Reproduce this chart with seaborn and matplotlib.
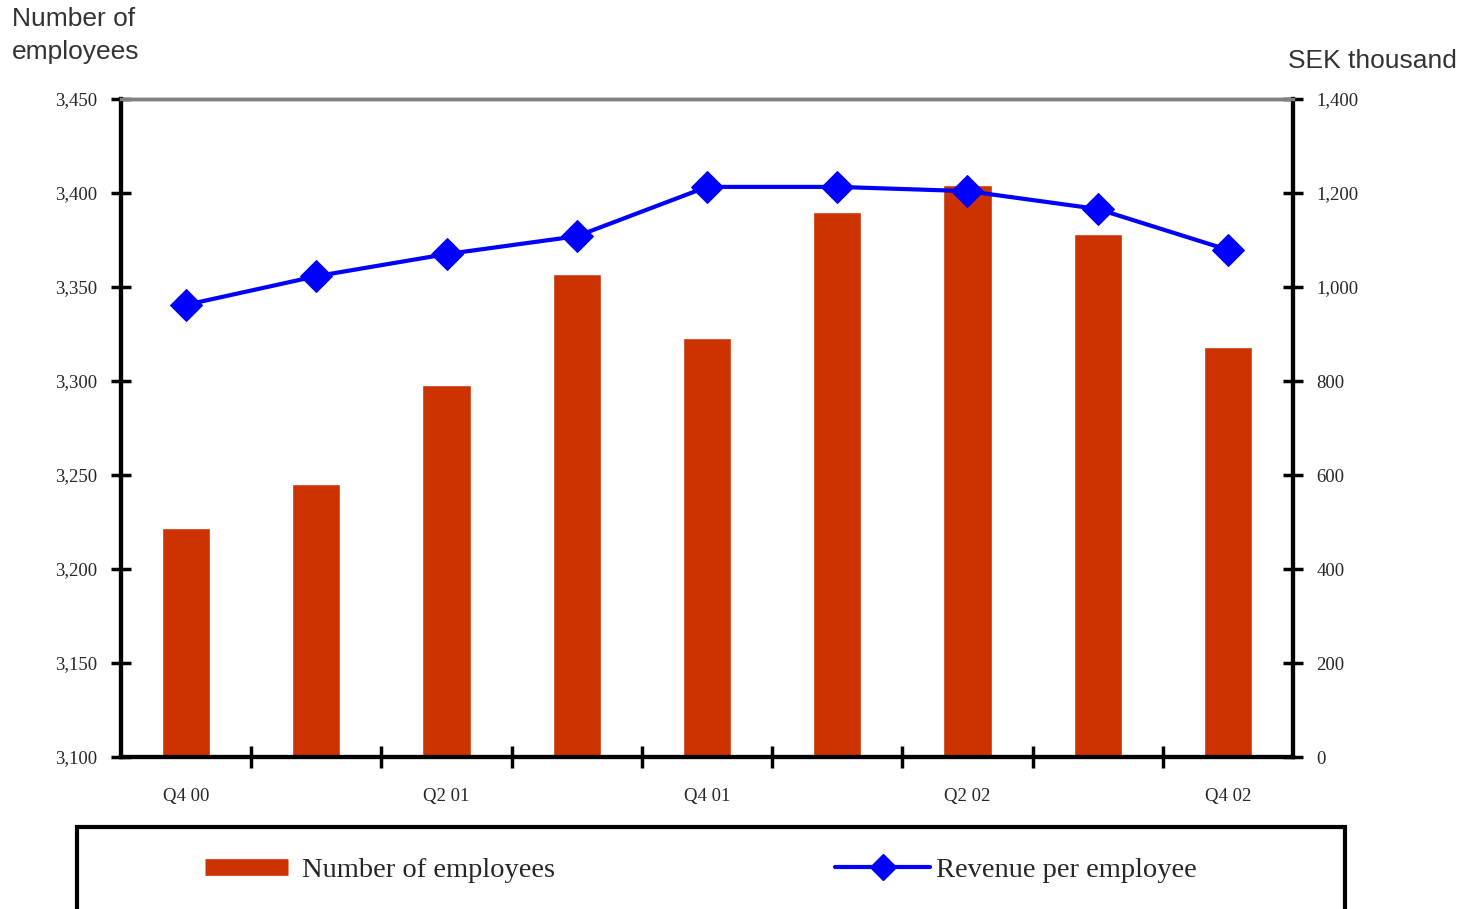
import numpy as np
import pandas as pd
import matplotlib
matplotlib.use("Agg")
import matplotlib.pyplot as plt
from matplotlib.lines import Line2D
from matplotlib.patches import Rectangle
from matplotlib.ticker import FuncFormatter, MultipleLocator, FixedLocator
import seaborn as sns

# Quarterly headcount and revenue per employee
quarters = ["Q4 00", "Q1 01", "Q2 01", "Q3 01", "Q4 01", "Q1 02", "Q2 02", "Q3 02", "Q4 02"]
employees = [3222, 3245, 3298, 3357, 3323, 3390, 3404, 3378, 3318]
revenue_per_employee = [962, 1023, 1070, 1108, 1213, 1213, 1204, 1166, 1079]

shown_labels = quarters[::2]

bar_color = "#CC3300"
line_color = "#0000FF"

sns.set_theme(style="white")
plt.rcParams["font.family"] = ["Liberation Serif", "DejaVu Serif"]

df = pd.DataFrame({"quarter": quarters, "employees": employees,
                   "revenue": revenue_per_employee, "pos": np.arange(len(quarters))})

fig = plt.figure(figsize=(14.76, 9.09), dpi=100)
ax = fig.add_axes([121 / 1476, 1 - 757 / 909, (1293 - 121) / 1476, (757 - 99) / 909])

sns.barplot(data=df, x="quarter", y="employees", color=bar_color, saturation=1,
            width=0.37, ax=ax, zorder=2)
ax.set_ylim(3100, 3450)
ax.set_xlim(-0.5, len(quarters) - 0.5)

ax2 = ax.twinx()
sns.lineplot(data=df, x="pos", y="revenue", color=line_color, linewidth=3,
             marker="D", markersize=16, markeredgecolor=line_color, ax=ax2, zorder=3)
ax2.set_ylim(0, 1400)
ax2.set_xlim(-0.5, len(quarters) - 0.5)

# Axis labels and ticks
tick_size = 13.5
ax.yaxis.set_major_locator(MultipleLocator(50))
ax.yaxis.set_major_formatter(FuncFormatter(lambda v, p: f"{int(v):,}"))
ax2.yaxis.set_major_locator(MultipleLocator(200))
ax2.yaxis.set_major_formatter(FuncFormatter(lambda v, p: f"{int(v):,}"))

ax.xaxis.set_major_locator(FixedLocator(np.arange(0, len(quarters), 2)))
ax.set_xticklabels(shown_labels)
ax.xaxis.set_minor_locator(FixedLocator(np.arange(0.5, len(quarters) - 0.5, 1)))
ax.tick_params(axis="x", which="major", length=0, pad=22, labelsize=tick_size)
ax.tick_params(axis="x", which="minor", direction="inout", length=16, width=2.5,
               color="black", bottom=True)
ax.tick_params(axis="y", which="major", direction="inout", length=14, width=2.5,
               color="black", left=True, labelsize=tick_size, pad=10)
ax2.tick_params(axis="y", which="major", direction="inout", length=14, width=2.5,
                color="black", right=True, labelsize=tick_size, pad=10)
for lab in ax.get_xticklabels() + ax.get_yticklabels() + ax2.get_yticklabels():
    lab.set_fontfamily("Liberation Serif")

ax.set_xlabel("")
ax.set_ylabel("")
ax2.set_xlabel("")
ax2.set_ylabel("")

for a in (ax, ax2):
    for side in ("left", "right", "bottom"):
        a.spines[side].set_color("black")
        a.spines[side].set_linewidth(3)
    a.spines["top"].set_color("#808080")
    a.spines["top"].set_linewidth(2.5)

# Axis titles
fig.text(12 / 1476, 1 - 7 / 909, "Number of\nemployees", ha="left", va="top",
         family="Liberation Sans", fontsize=19, color="#333333", linespacing=1.45)
fig.text(1457 / 1476, 1 - 61 / 909, "SEK thousand", ha="right", va="center",
         family="Liberation Sans", fontsize=19, color="#333333")

# Legend frame running off the bottom edge
fig.patches.append(Rectangle((77 / 1476, -0.05), (1345 - 77) / 1476, 0.05 + 1 - 827 / 909,
                             transform=fig.transFigure, fill=False, edgecolor="black",
                             linewidth=3, clip_on=False))

bar_handle = Line2D([], [], color=bar_color, linewidth=12, solid_capstyle="butt")
line_handle = Line2D([], [], color=line_color, linewidth=3, marker="D", markersize=13)

leg_fs = 20.5
fs_px = leg_fs * 100 / 72
leg1 = fig.legend(handles=[bar_handle], labels=["Number of employees"],
                  loc="center left", bbox_to_anchor=(205 / 1476, 1 - 870 / 909),
                  frameon=False, borderpad=0, borderaxespad=0,
                  handlelength=83 / fs_px, handletextpad=14 / fs_px,
                  prop=dict(family="Liberation Serif", size=leg_fs))
leg2 = fig.legend(handles=[line_handle], labels=["Revenue per employee"],
                  loc="center left", bbox_to_anchor=(835 / 1476, 1 - 870 / 909),
                  frameon=False, borderpad=0, borderaxespad=0,
                  handlelength=95 / fs_px, handletextpad=6 / fs_px,
                  prop=dict(family="Liberation Serif", size=leg_fs))

fig.savefig("out.png", dpi=100)
